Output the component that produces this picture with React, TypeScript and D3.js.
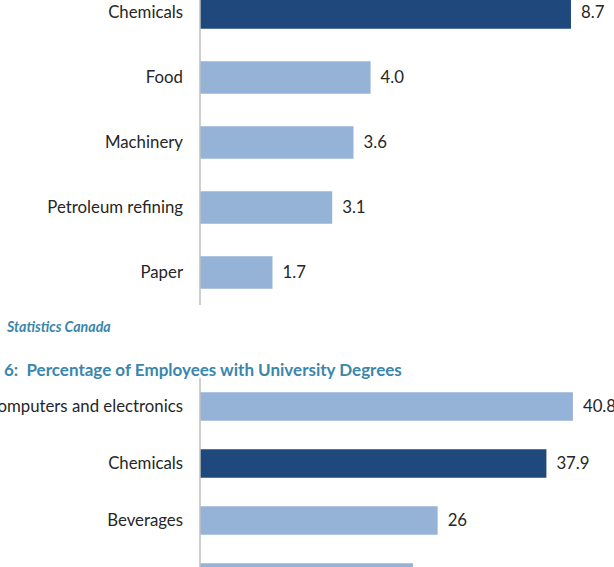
import React, { useEffect, useRef } from "react";
import * as d3 from "d3";

// Upper panel: industries by value
const topCategories = ["Chemicals", "Food", "Machinery", "Petroleum refining", "Paper"];
const topValues = [8.7, 4.0, 3.6, 3.1, 1.7];
const topLabels = ["8.7", "4.0", "3.6", "3.1", "1.7"];

// Lower panel: share of employees with university degrees
const degreeTitle = "6:  Percentage of Employees with University Degrees";
const degreeCategories = ["Computers and electronics", "Chemicals", "Beverages", "Machinery"];
const degreeValues = [40.8, 37.9, 26, 23.3];
const degreeLabels = ["40.8", "37.9", "26", "23.3"];

const sourceNote = "Statistics Canada";

const App = () => {
  const svgRef = useRef<SVGSVGElement | null>(null);

  useEffect(() => {
    const svg = d3.select(svgRef.current);
    svg.selectAll("*").remove();

    const width = 614;
    const height = 567;
    svg.attr("width", width).attr("height", height);

    const colorDark = "#1f497d";
    const colorLight = "#95b3d7";
    const colorAxis = "#bfbfbf";
    const colorText = "#262626";
    const colorTitle = "#3b86ab";
    const fontFamily = "Lato, 'Noto Sans', sans-serif";
    const axisX = 200;
    const labelSize = 16.8;

    // draws one horizontal bar panel
    const drawBars = (
      categories: string[],
      values: number[],
      labels: string[],
      highlight: string,
      x: d3.ScaleLinear<number, number>,
      y: d3.ScaleBand<string>
    ) => {
      const g = svg.append("g");
      const mid = (c: string) => (y(c) as number) + y.bandwidth() / 2;
      // rows whose text would fall below the page are left unlabelled
      const visible = categories.map((c) => mid(c) < height - 12);

      g.selectAll("rect")
        .data(values)
        .enter()
        .append("rect")
        .attr("x", x(0))
        .attr("y", (d, i) => y(categories[i]) as number)
        .attr("width", (d) => x(d) - x(0))
        .attr("height", y.bandwidth())
        .attr("fill", (d, i) => (categories[i] === highlight ? colorDark : colorLight));

      // category names to the left of the axis
      g.selectAll("text.cat")
        .data(categories.filter((c, i) => visible[i]))
        .enter()
        .append("text")
        .attr("class", "cat")
        .attr("x", axisX - 17)
        .attr("y", (d) => mid(d))
        .attr("dy", "0.35em")
        .attr("text-anchor", "end")
        .attr("font-family", fontFamily)
        .attr("font-size", labelSize)
        .attr("fill", colorText)
        .text((d) => d);

      // value labels at the end of each bar
      g.selectAll("text.val")
        .data(values.map((v, i) => i).filter((i) => visible[i]))
        .enter()
        .append("text")
        .attr("class", "val")
        .attr("x", (i) => x(values[i]) + 10)
        .attr("y", (i) => mid(categories[i]))
        .attr("dy", "0.35em")
        .attr("font-family", fontFamily)
        .attr("font-size", labelSize)
        .attr("fill", colorText)
        .text((i) => labels[i]);

      // vertical category axis
      const [y0, y1] = y.range();
      g.append("line")
        .attr("x1", axisX)
        .attr("x2", axisX)
        .attr("y1", y0)
        .attr("y2", y1)
        .attr("stroke", colorAxis)
        .attr("stroke-width", 1.5);
    };

    // upper chart
    const xTop = d3.scaleLinear().domain([0, 10]).range([axisX, axisX + 426.4]);
    const yTop = d3.scaleBand().domain(topCategories).range([-20, 305]).paddingInner(0.5).paddingOuter(0.25);
    drawBars(topCategories, topValues, topLabels, "Chemicals", xTop, yTop);

    // source note
    svg
      .append("text")
      .attr("x", 7)
      .attr("y", 332)
      .attr("font-family", fontFamily)
      .attr("font-size", 14.2)
      .attr("font-style", "italic")
      .attr("font-weight", "bold")
      .attr("fill", colorTitle)
      .text(sourceNote);

    // lower chart title
    svg
      .append("text")
      .attr("x", 4)
      .attr("y", 376)
      .attr("font-family", fontFamily)
      .attr("font-size", 17)
      .attr("font-weight", "bold")
      .attr("fill", colorTitle)
      .style("white-space", "pre")
      .text(degreeTitle);

    // lower chart
    const xBottom = d3.scaleLinear().domain([0, 50]).range([axisX, axisX + 457]);
    const yBottom = d3
      .scaleBand()
      .domain(degreeCategories)
      .range([378, 606])
      .paddingInner(0.5)
      .paddingOuter(0.25);
    drawBars(degreeCategories, degreeValues, degreeLabels, "Chemicals", xBottom, yBottom);
  }, []);

  return (
    <svg
      ref={svgRef}
      style={{ position: "absolute", left: 0, top: 0, background: "#fff" }}
    ></svg>
  );
};

export default App;
